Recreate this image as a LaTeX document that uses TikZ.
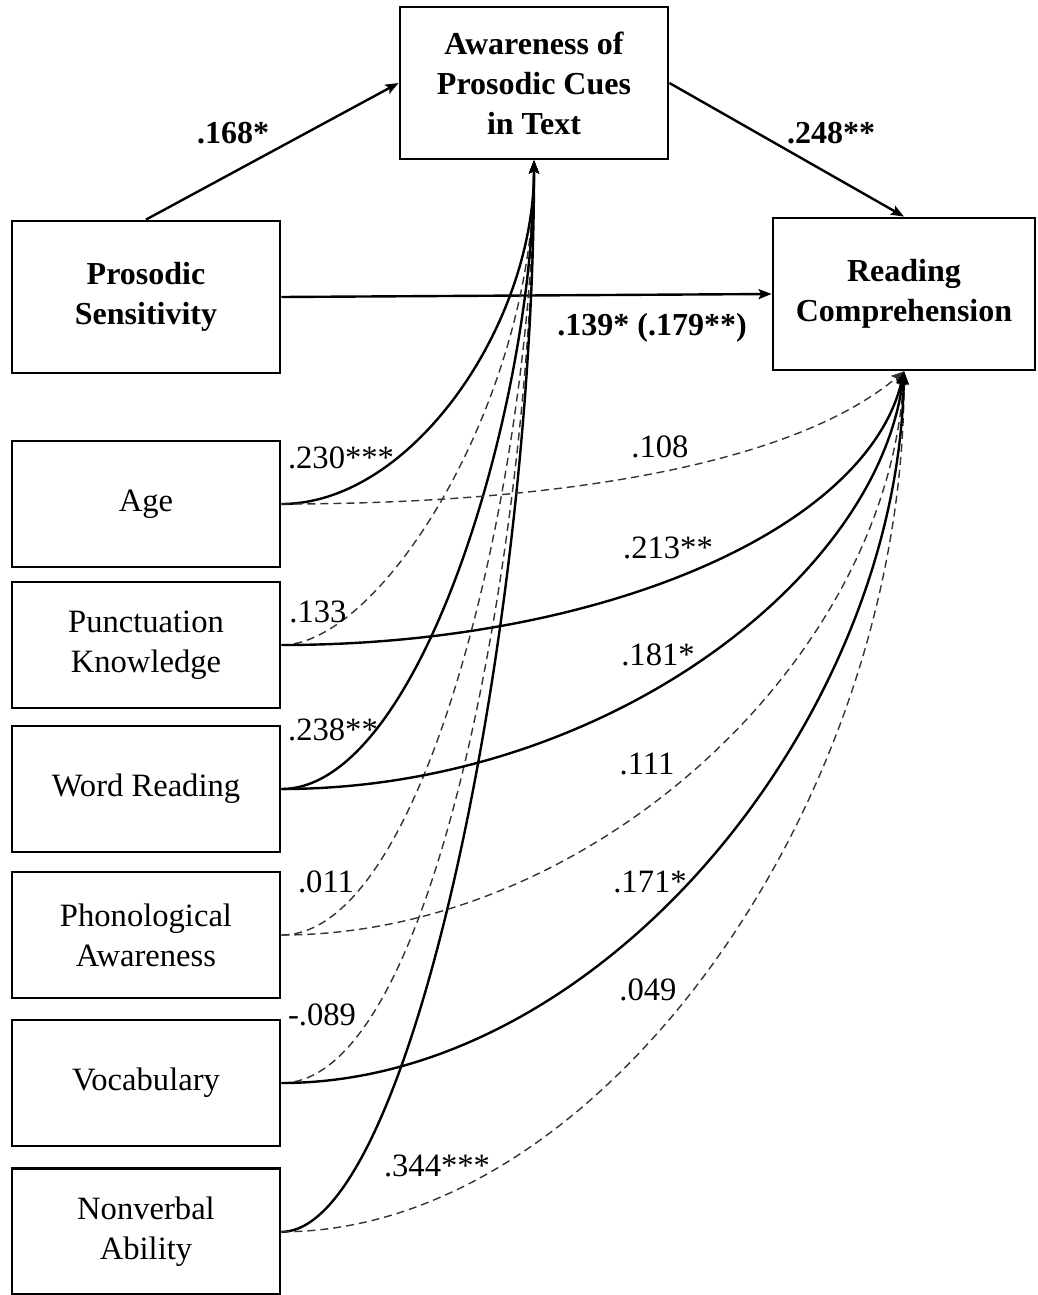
\documentclass[tikz,border=0pt]{standalone}
\usepackage{fontspec}
\setmainfont{Liberation Serif}
\usetikzlibrary{arrows.meta,positioning}

\begin{document}
\begin{tikzpicture}[x=0.5pt,y=-0.5pt,>={Stealth[length=6.5pt,width=5pt,inset=1.2pt]},
  font=\fontsize{16.3}{20}\selectfont,
  var/.style={draw,line width=1.4pt,minimum width=134pt,minimum height=63pt,inner sep=2pt,align=center},
  bigvar/.style={var,minimum height=76pt,font=\fontsize{16}{20}\selectfont\bfseries},
  sig/.style={->,line width=1.2pt},
  ns/.style={->,line width=0.7pt,black!80,dash pattern=on 4pt off 2.5pt},
  coef/.style={inner sep=0pt},
  bcoef/.style={coef,font=\fontsize{16}{20}\selectfont\bfseries}]

\useasboundingbox (0,0) rectangle (1038,1295);

% main model
\node[bigvar] (ps) at (146,297) {Prosodic\\Sensitivity};
\node[bigvar] (aw) at (534,83) {Awareness of\\Prosodic Cues\\in Text};
\node[bigvar,minimum width=131pt] (rc) at (904,294) {Reading\\Comprehension};

% controls
\node[var] (age)[below=32.6pt of ps] {Age};
\node[var] (punct)[below=6.1pt of age] {Punctuation\\Knowledge};
\node[var] (word)[below=7.6pt of punct] {Word Reading};
\node[var] (phon)[below=8.6pt of word] {Phonological\\Awareness};
\node[var] (vocab)[below=9.6pt of phon] {Vocabulary};
\node[var] (nonv)[below=10pt of vocab] {Nonverbal\\Ability};

\draw[sig] (ps.north) -- (aw.west);
\draw[sig] (aw.east) -- (rc.north);
\draw[sig] (ps.east) -- (rc.west);

% paths to awareness
\draw[ns] (punct.east) .. controls +(100,0) and +(0,240) .. (aw.south);
\draw[ns] (phon.east) .. controls +(150,0) and +(0,290) .. (aw.south);
\draw[ns] (vocab.east) .. controls +(160,0) and +(0,340) .. (aw.south);
\draw[sig] (age.east) .. controls +(130,0) and +(0,165) .. (aw.south);
\draw[sig] (word.east) .. controls +(140,0) and +(0,240) .. (aw.south);
\draw[sig] (nonv.east) .. controls +(130,0) and +(0,460) .. (aw.south);

% paths to reading comprehension
\draw[ns] (age.east) .. controls +(250,0) and +(-120,100) .. (rc.south);
\draw[ns] (phon.east) .. controls +(310,0) and +(-17,289) .. (rc.south);
\draw[ns] (nonv.east) .. controls +(320,0) and +(0,430) .. (rc.south);
\draw[sig] (punct.east) .. controls +(320,0) and +(-37,158) .. (rc.south);
\draw[sig] (word.east) .. controls +(320,0) and +(-27,209) .. (rc.south);
\draw[sig] (vocab.east) .. controls +(320,0) and +(-7,349) .. (rc.south);

% coefficients
\node[bcoef] (c168) at (233,133) {.168*};
\node[bcoef] (c248) at (831,133) {.248**};
\node[bcoef] (c139) at (652,328) {.139* (.179**)};
\node[coef] (c230) at (341,458) {.230***};
\node[coef] (c108) at (660,447) {.108};
\node[coef] (c133) at (318,612) {.133};
\node[coef] (c213) at (668,548) {.213**};
\node[coef] (c238) at (333,730) {.238**};
\node[coef] (c181) at (658,655) {.181*};
\node[coef] (c111) at (647,764) {.111};
\node[coef] (c011) at (326,882) {.011};
\node[coef] (c171) at (650,882) {.171*};
\node[coef] (c089) at (322,1015) {-.089};
\node[coef] (c049) at (648,990) {.049};
\node[coef] (c344) at (437,1166) {.344***};

\end{tikzpicture}
\end{document}
